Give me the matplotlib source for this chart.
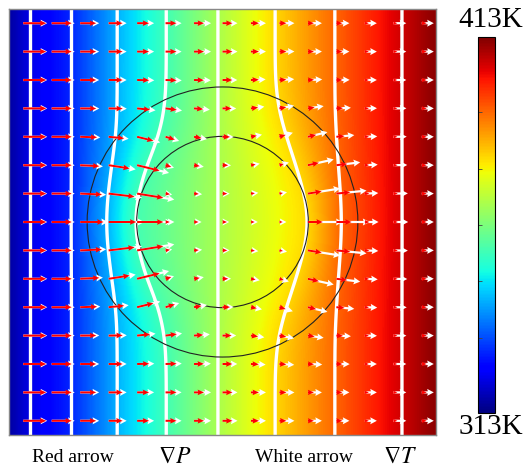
import numpy as np
import matplotlib
matplotlib.use('Agg')
import matplotlib.pyplot as plt
from matplotlib.patches import Circle

# temperature range of the colour bar (K)
T_MIN, T_MAX = 313, 413
# isotherm temperatures of the 8 white lines (matched to the colours)
iso_T = [322.0, 329.5, 343.0, 356.0, 368.5, 381.0, 393.0, 406.0]
# temperature at the left / right edge
T_left, T_right = 316.0, 412.0

# isotherm x position (domain 0..1) against distance from the centre row
row_offset = [0.0, 0.063, 0.129, 0.164, 0.199, 0.267, 0.333, 0.5]
iso_x = [
    [0.047, 0.047, 0.047, 0.047, 0.047, 0.047, 0.047, 0.047],
    [0.148, 0.148, 0.148, 0.148, 0.148, 0.148, 0.148, 0.148],
    [0.227, 0.232, 0.241, 0.246, 0.251, 0.253, 0.253, 0.253],
    [0.290, 0.297, 0.314, 0.330, 0.349, 0.365, 0.368, 0.368],
    [0.489, 0.489, 0.489, 0.489, 0.489, 0.489, 0.489, 0.489],
    [0.705, 0.698, 0.677, 0.665, 0.651, 0.630, 0.623, 0.623],
    [0.778, 0.775, 0.770, 0.768, 0.766, 0.763, 0.763, 0.763],
    [0.920, 0.920, 0.920, 0.920, 0.920, 0.920, 0.920, 0.920],
]

# inner / outer circle radius
r_inner, r_outer = 0.201, 0.317

# arrow lengths (px) in the undisturbed rows, per column
white_len = [24, 23, 19, 18, 17, 16, 17, 15, 15, 15, 14, 13, 12, 13, 12]
red_len = [23, 20, 16, 14, 12, 11, 10, 10, 8, 7, 6, 6, 4, 4, 5]
n_arrows = 15


def smooth_rows(a, sigma):
    # gaussian blur along axis 0
    half = int(3 * sigma)
    t = np.arange(-half, half + 1)
    g = np.exp(-0.5 * (t / sigma) ** 2)
    g /= g.sum()
    p = np.pad(a, ((half, half), (0, 0)), mode='edge')
    return np.array([np.convolve(p[:, i], g, mode='valid') for i in range(a.shape[1])]).T


# build temperature field from the isotherm table
n = 401
xs = np.linspace(0, 1, n)
ys = np.linspace(0, 1, n)
T = np.zeros((n, n))
for j, y in enumerate(ys):
    off = abs(y - 0.5)
    xk = [np.interp(off, row_offset, row) for row in iso_x]
    T[j] = np.interp(xs, [0] + xk + [1], [T_left] + iso_T + [T_right])
T = smooth_rows(T, 16)
T = smooth_rows(T.T, 3).T

# arrows: direction from grad T (steepest value near the tail),
# size relative to the undisturbed top row
gy, gx = np.gradient(T, ys, xs)
gm = np.hypot(gx, gy)
ac = (np.arange(n_arrows) + 0.5) / n_arrows
idx = np.rint(ac * (n - 1)).astype(int)
AX, AY = np.meshgrid(ac, ac)
U = np.zeros((n_arrows, n_arrows))
V = np.zeros((n_arrows, n_arrows))
win = 7
for a, jj in enumerate(idx):
    for b, ii in enumerate(idx):
        lo, hi = max(ii - win, 0), min(ii + win + 1, n)
        k = lo + np.argmax(gm[jj, lo:hi])
        U[a, b] = gx[jj, k]
        V[a, b] = gy[jj, k]
mag = np.hypot(U, V)
g0 = mag[-1][None, :]
r = mag / g0
rel = np.where(r < 1, r ** 1.7, r ** 1.5)
px = 1 / 427
Wu = U / mag * rel * np.array(white_len)[None, :] * px
Wv = V / mag * rel * np.array(white_len)[None, :] * px
Ru = U / mag * rel * np.array(red_len)[None, :] * px
Rv = V / mag * rel * np.array(red_len)[None, :] * px

fig = plt.figure(figsize=(5.28, 4.69), dpi=100)
ax = fig.add_axes([9 / 528, 34 / 469, 427 / 528, 426 / 469])
im = ax.imshow(T, origin='lower', extent=[0, 1, 0, 1], cmap='jet',
               vmin=T_MIN, vmax=T_MAX, aspect='auto', interpolation='bilinear')
ax.contour(xs, ys, T, levels=iso_T, colors='white', linewidths=2.4)
for rad in (r_inner, r_outer):
    ax.add_patch(Circle((0.5, 0.5), rad, fill=False, ec='#222222', lw=0.8, zorder=3))

ax.quiver(AX, AY, Wu, Wv, color='white', angles='xy', scale_units='xy', scale=1,
          units='dots', width=2.2, headwidth=3.2, headlength=3, headaxislength=2.7,
          zorder=4)
ax.quiver(AX, AY, Ru, Rv, color='red', angles='xy', scale_units='xy', scale=1,
          units='dots', width=2.0, headwidth=2.8, headlength=3.2, headaxislength=2.9,
          zorder=5)

ax.set_xlim(0, 1)
ax.set_ylim(0, 1)
ax.set_xticks([])
ax.set_yticks([])
for s in ax.spines.values():
    s.set_color('#888888')
    s.set_linewidth(1)

cax = fig.add_axes([478 / 528, 56 / 469, 17 / 528, 376 / 469])
cb = fig.colorbar(im, cax=cax)
cb.set_ticks([333, 348, 363, 378, 393])
cb.ax.yaxis.set_ticks_position('left')
cb.ax.tick_params(direction='in', length=3, labelleft=False, labelright=False,
                  color='#444444', width=0.6)
cb.outline.set_linewidth(0.8)

serif = 'Liberation Serif'
fig.text(491 / 528, 1 - 20 / 469, '413K', ha='center', va='center', fontsize=21, family=serif)
fig.text(491 / 528, 1 - 427 / 469, '313K', ha='center', va='center', fontsize=21, family=serif)

plt.rcParams['mathtext.fontset'] = 'stix'
fig.text(32 / 528, 1 - 457 / 469, 'Red arrow', ha='left', va='center', fontsize=14, family=serif)
fig.text(158 / 528, 1 - 456 / 469, r'$\nabla P$', ha='left', va='center', fontsize=17)
fig.text(255 / 528, 1 - 457 / 469, 'White arrow', ha='left', va='center', fontsize=14, family=serif)
fig.text(383 / 528, 1 - 456 / 469, r'$\nabla T$', ha='left', va='center', fontsize=17)

fig.savefig('out.png', dpi=100)
